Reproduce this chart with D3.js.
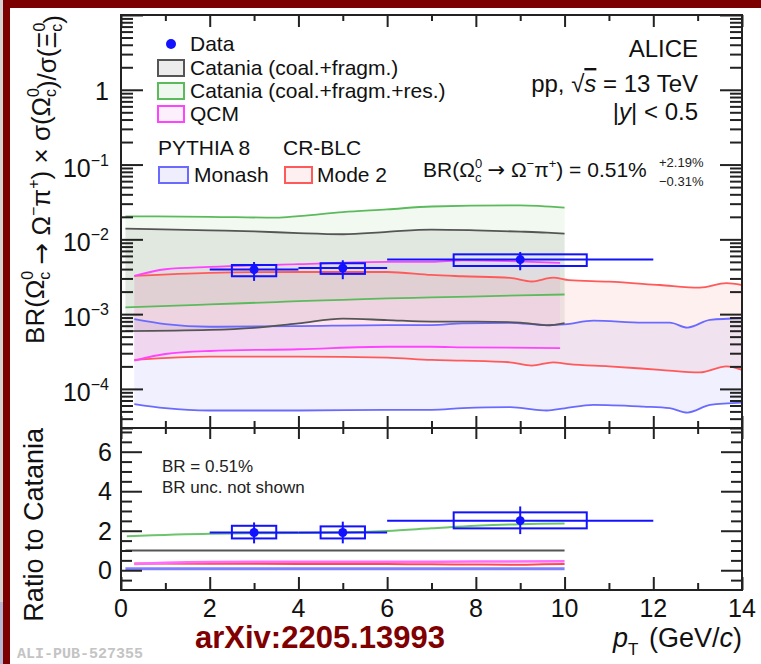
<!DOCTYPE html>
<html><head><meta charset="utf-8">
<script src="https://cdn.jsdelivr.net/npm/d3@7"></script>
<style>
body{margin:0;background:#fff;}
svg{display:block;font-family:"Liberation Sans",Arial,Helvetica,sans-serif;}
.arr{font-family:"DejaVu Sans",sans-serif;}
</style></head>
<body><svg id="c" width="761" height="664"></svg>
<script>
// ---------------- DATA ----------------
const dataPt      = [3, 5, 9];
const dataXLo     = [2, 4, 6];
const dataXHi     = [4, 6, 12];
const dataBoxLo   = [2.5, 4.5, 7.5];
const dataBoxHi   = [3.5, 5.5, 10.5];
const dataY       = [3.94e-3, 4.14e-3, 5.36e-3];
const dataStatLo  = [2.78e-3, 2.93e-3, 3.86e-3];
const dataStatHi  = [4.98e-3, 5.25e-3, 6.78e-3];
const dataSysLo   = [3.21e-3, 3.45e-3, 4.40e-3];
const dataSysHi   = [4.54e-3, 4.79e-3, 6.30e-3];

const ratioY      = [1.91, 1.91, 2.51];
const ratioStatLo = [1.36, 1.36, 1.83];
const ratioStatHi = [2.42, 2.46, 3.23];
const ratioSysLo  = [1.61, 1.61, 2.12];
const ratioSysHi  = [2.25, 2.22, 2.93];

// Catania (coal.+fragm.)
const catPt = [0.1, 2, 3, 4, 5, 6, 7, 8, 9, 9.6, 10];
const catHi = [1.39e-2, 1.32e-2, 1.28e-2, 1.21e-2, 1.17e-2, 1.26e-2, 1.35e-2, 1.32e-2, 1.27e-2, 1.23e-2, 1.19e-2];
const catLo = [5.93e-4, 6.15e-4, 6.55e-4, 7.5e-4, 8.71e-4, 8.32e-4, 7.94e-4, 7.94e-4, 7.7e-4, 7.08e-4, 7.59e-4];
// Catania (coal.+fragm.+res.)
const catResPt = [0.1, 2, 3.5, 4, 5, 6, 7, 9, 10];
const catResHi = [2.03e-2, 2.0e-2, 1.95e-2, 2.04e-2, 2.31e-2, 2.51e-2, 2.75e-2, 2.84e-2, 2.65e-2];
const catResLo = [1.23e-3, 1.35e-3, 1.45e-3, 1.49e-3, 1.55e-3, 1.62e-3, 1.67e-3, 1.78e-3, 1.83e-3];
// QCM
const qcmPt = [0.3, 1, 2, 4, 6, 7, 7.7, 9.9];
const qcmHi = [3.24e-3, 3.98e-3, 4.28e-3, 4.65e-3, 4.99e-3, 4.99e-3, 5.25e-3, 4.83e-3];
const qcmLo = [2.39e-4, 2.93e-4, 3.21e-4, 3.39e-4, 3.66e-4, 3.66e-4, 3.6e-4, 3.52e-4];
// PYTHIA 8 Monash
const monPt = [0.3, 1, 2, 4, 6, 7, 7.7, 8.77, 9.6, 10, 10.65, 11.77, 12.37, 12.77, 13.28, 14];
const monHi = [8.57e-4, 7.36e-4, 6.78e-4, 6.92e-4, 7.13e-4, 7.13e-4, 7.52e-4, 7.66e-4, 7.13e-4, 7.3e-4, 8.18e-4, 7.71e-4, 7.71e-4, 6.61e-4, 8.38e-4, 8.81e-4];
const monLo = [6.25e-5, 5.52e-5, 5.14e-5, 5.14e-5, 5.25e-5, 5.25e-5, 5.52e-5, 5.70e-5, 5.14e-5, 5.5e-5, 6.11e-5, 5.79e-5, 5.52e-5, 4.83e-5, 6.11e-5, 6.56e-5];
// PYTHIA 8 CR-BLC Mode 2
const m2Pt = [0.3, 2, 4, 6, 7, 7.7, 8.77, 9.26, 9.74, 10.1, 11, 12.15, 13.05, 13.65, 14];
const m2Hi = [3.24e-3, 3.56e-3, 3.66e-3, 3.66e-3, 3.34e-3, 3.21e-3, 3.05e-3, 2.73e-3, 3.08e-3, 2.84e-3, 2.72e-3, 2.45e-3, 2.26e-3, 2.59e-3, 2.45e-3];
const m2Lo = [2.44e-4, 2.70e-4, 2.70e-4, 2.62e-4, 2.44e-4, 2.39e-4, 2.27e-4, 2.05e-4, 2.27e-4, 2.14e-4, 2.0e-4, 1.80e-4, 1.66e-4, 2.0e-4, 1.80e-4];

// Ratios to Catania
const rCatPt = [0.1, 10];            const rCat = [1, 1];
const rResPt = [0.13, 2, 3, 4, 5, 6, 7, 8, 9, 10];
const rRes   = [1.72, 1.85, 1.87, 1.89, 1.91, 1.99, 2.12, 2.25, 2.33, 2.36];
const rQcmPt = [0.3, 1, 2, 4, 6, 8, 10];
const rQcm   = [0.32, 0.38, 0.42, 0.43, 0.43, 0.44, 0.46];
const rM2Pt  = [0.3, 2, 4, 6, 7, 8, 9, 9.5, 10];
const rM2    = [0.34, 0.33, 0.32, 0.31, 0.30, 0.29, 0.28, 0.30, 0.32];
const rMonPt = [0.1, 10];            const rMon = [0.08, 0.07];

const xMajor = [0, 2, 4, 6, 8, 10, 12, 14];
const yMainMajorExp = [-4, -3, -2, -1, 0];
const yRatioMajor = [0, 2, 4, 6];

// ---------------- LAYOUT ----------------
const L = 121, R = 742, T = 15, MID = 428, B = 590;
const svg = d3.select("#c");
const x = d3.scaleLinear([0, 14], [L, R]);
const y = d3.scaleLog([3e-5, 10], [MID, T]);
const yr = d3.scaleLinear([-1, 7.2], [B, MID]);

// outer decoration
svg.append("rect").attr("x",0).attr("y",0).attr("width",3).attr("height",602).attr("fill","#d4d4d4");
svg.append("rect").attr("x",0).attr("y",602).attr("width",3).attr("height",62).attr("fill","#b4b8d4");
svg.append("rect").attr("x",3).attr("y",0).attr("width",7).attr("height",664).attr("fill","#7d0000");
svg.append("rect").attr("x",3).attr("y",0).attr("width",758).attr("height",8).attr("fill","#7d0000");

const defs = svg.append("defs");
defs.append("clipPath").attr("id","cm").append("rect").attr("x",L).attr("y",T).attr("width",R-L).attr("height",MID-T);
defs.append("clipPath").attr("id","cr").append("rect").attr("x",L).attr("y",MID).attr("width",R-L).attr("height",B-MID);

const gm = svg.append("g").attr("clip-path","url(#cm)");
const gr = svg.append("g").attr("clip-path","url(#cr)");

function band(g, pt, lo, hi, fill){
  const pts = pt.map((p,i)=>({p, lo:lo[i], hi:hi[i]}));
  g.append("path").datum(pts)
    .attr("d", d3.area().x(d=>x(d.p)).y0(d=>y(d.lo)).y1(d=>y(d.hi)).curve(d3.curveMonotoneX))
    .attr("fill", fill).attr("stroke","none");
}
function bandLines(g, pt, lo, hi, stroke){
  [lo, hi].forEach(arr=>{
    g.append("path").datum(pt.map((p,i)=>[p, arr[i]]))
      .attr("d", d3.line().x(d=>x(d[0])).y(d=>y(d[1])).curve(d3.curveMonotoneX))
      .attr("fill","none").attr("stroke",stroke).attr("stroke-width",1.8);
  });
}
const colGrey="#555555", colGreen="#5cba5c", colPink="#ff44ff", colBlue="#6a6aff", colRed="#ff5a5a";
band(gm, monPt, monLo, monHi, "rgba(60,60,255,0.075)");
band(gm, m2Pt, m2Lo, m2Hi, "rgba(255,60,60,0.075)");
band(gm, qcmPt, qcmLo, qcmHi, "rgba(255,0,255,0.05)");
band(gm, catPt, catLo, catHi, "rgba(40,40,40,0.08)");
band(gm, catResPt, catResLo, catResHi, "rgba(0,150,0,0.055)");
bandLines(gm, monPt, monLo, monHi, colBlue);
bandLines(gm, m2Pt, m2Lo, m2Hi, colRed);
bandLines(gm, qcmPt, qcmLo, qcmHi, colPink);
bandLines(gm, catPt, catLo, catHi, colGrey);
bandLines(gm, catResPt, catResLo, catResHi, colGreen);

// data points
const dataCol = "#1212ff";
function drawData(g, ys, yv, sLo, sHi, bLo, bHi){
  dataPt.forEach((p,i)=>{
    g.append("rect").attr("x",x(dataBoxLo[i])).attr("width",x(dataBoxHi[i])-x(dataBoxLo[i]))
      .attr("y",ys(bHi[i])).attr("height",ys(bLo[i])-ys(bHi[i]))
      .attr("fill","none").attr("stroke",dataCol).attr("stroke-width",2);
    g.append("line").attr("x1",x(dataXLo[i])).attr("x2",x(dataXHi[i])).attr("y1",ys(yv[i])).attr("y2",ys(yv[i]))
      .attr("stroke",dataCol).attr("stroke-width",2);
    g.append("line").attr("x1",x(p)).attr("x2",x(p)).attr("y1",ys(sLo[i])).attr("y2",ys(sHi[i]))
      .attr("stroke",dataCol).attr("stroke-width",2);
    g.append("circle").attr("cx",x(p)).attr("cy",ys(yv[i])).attr("r",4.5).attr("fill",dataCol);
  });
}
drawData(gm, y, dataY, dataStatLo, dataStatHi, dataSysLo, dataSysHi);

// ratio panel
function rline(pt, v, col, w){
  gr.append("path").datum(pt.map((p,i)=>[p,v[i]]))
    .attr("d", d3.line().x(d=>x(d[0])).y(d=>yr(d[1])).curve(d3.curveMonotoneX))
    .attr("fill","none").attr("stroke",col).attr("stroke-width",w);
}
rline(rMonPt, rMon, "#8080ff", 3);
rline(rM2Pt, rM2, "#ff4a4a", 2);
rline(rQcmPt, rQcm, "#ff6aff", 2.5);
rline(rCatPt, rCat, "#555", 2);
rline(rResPt, rRes, "#6cc46c", 2);
drawData(gr, yr, ratioY, ratioStatLo, ratioStatHi, ratioSysLo, ratioSysHi);

// ---------------- AXES (ticks inward) ----------------
const xMinor = d3.range(1, 14, 2);
function noDom(g){ g.select(".domain").remove(); g.selectAll("line").attr("stroke","#222").attr("stroke-width",2); }
function xTicks(ypos, dir, major, minor){
  const mk = () => (dir==="up") ? d3.axisBottom(x) : d3.axisTop(x);
  svg.append("g").attr("transform",`translate(0,${ypos})`).call(mk().tickValues(xMajor).tickSize(-major).tickFormat("")).call(noDom);
  svg.append("g").attr("transform",`translate(0,${ypos})`).call(mk().tickValues(xMinor).tickSize(-minor).tickFormat("")).call(noDom);
}
xTicks(MID, "up", 12, 7);
xTicks(T, "down", 12, 6);
xTicks(B, "up", 13, 7);
xTicks(MID, "down", 11, 6);

const yMajorVals = [1e-4,1e-3,1e-2,1e-1,1,10];
const yMinorVals = [];
for (let e=-5; e<=0; e++) for (let m=2; m<=9; m++){ const v=m*Math.pow(10,e); if (v>=3e-5 && v<=10) yMinorVals.push(v); }
function yTicks(scale, maj, min, majLen, minLen){
  svg.append("g").attr("transform",`translate(${L},0)`).call(d3.axisLeft(scale).tickValues(maj).tickSize(-majLen).tickFormat("")).call(noDom);
  svg.append("g").attr("transform",`translate(${L},0)`).call(d3.axisLeft(scale).tickValues(min).tickSize(-minLen).tickFormat("")).call(noDom);
  svg.append("g").attr("transform",`translate(${R},0)`).call(d3.axisRight(scale).tickValues(maj).tickSize(-majLen).tickFormat("")).call(noDom);
  svg.append("g").attr("transform",`translate(${R},0)`).call(d3.axisRight(scale).tickValues(min).tickSize(-minLen).tickFormat("")).call(noDom);
}
yTicks(y, yMajorVals, yMinorVals, 22, 12);
yTicks(yr, yRatioMajor, d3.range(-0.5, 7.2, 0.5).filter(v=>v%2!==0), 21, 11);

// frames
svg.append("rect").attr("x",L).attr("y",T).attr("width",R-L).attr("height",MID-T).attr("fill","none").attr("stroke","#222").attr("stroke-width",2);
svg.append("rect").attr("x",L).attr("y",MID).attr("width",R-L).attr("height",B-MID).attr("fill","none").attr("stroke","#222").attr("stroke-width",2);

// tick labels
const tl = svg.append("g").attr("font-size",25).attr("fill","#111");
yMainMajorExp.forEach(e=>{
  const yy = y(Math.pow(10,e));
  if (e===0){
    tl.append("text").attr("x",109).attr("y",yy+10).attr("text-anchor","end").text("1");
  } else {
    const t = tl.append("text").attr("x",109).attr("y",yy+12).attr("text-anchor","end");
    t.append("tspan").text("10");
    t.append("tspan").attr("font-size",16).attr("dy",-11).text("\u2212"+(-e));
  }
});
yRatioMajor.forEach(v=>{
  tl.append("text").attr("x",112).attr("y",yr(v)+9).attr("text-anchor","end").text(v);
});
xMajor.forEach(v=>{
  tl.append("text").attr("x",x(v)).attr("y",617).attr("text-anchor","middle").text(v);
});

// axis titles
const yt = svg.append("text").attr("transform",`translate(44,${T}) rotate(-90)`).attr("text-anchor","end").attr("font-size",26).attr("fill","#111");
function omc(t){
  t.append("tspan").attr("font-size",16).attr("dy",-11).text("0");
  t.append("tspan").attr("font-size",16).attr("dx",-9).attr("dy",17).text("c");
  t.append("tspan").attr("dy",-6).text("");
}
yt.append("tspan").text("BR(\u03A9"); omc(yt);
yt.append("tspan").text(" ");
yt.append("tspan").attr("class","arr").text("\u2192");
yt.append("tspan").text(" \u03A9");
yt.append("tspan").attr("font-size",16).attr("dy",-11).text("\u2212");
yt.append("tspan").attr("dy",11).text("\u03C0");
yt.append("tspan").attr("font-size",16).attr("dy",-11).text("+");
yt.append("tspan").attr("dy",11).text(") \u00D7 \u03C3(\u03A9"); omc(yt);
yt.append("tspan").text(")/\u03C3(\u039E"); omc(yt);
yt.append("tspan").text(")");

svg.append("text").attr("transform",`translate(43,${MID}) rotate(-90)`).attr("text-anchor","end").attr("font-size",27).attr("fill","#111").text("Ratio to Catania");

const xt = svg.append("text").attr("x",R).attr("y",647).attr("text-anchor","end").attr("font-size",27).attr("fill","#111");
xt.append("tspan").attr("font-style","italic").text("p");
xt.append("tspan").attr("font-size",17).attr("dy",8).text("T");
xt.append("tspan").attr("dy",-8).attr("dx",3).text(" (GeV/");
xt.append("tspan").attr("font-style","italic").text("c");
xt.append("tspan").text(")");

// legend
const lg = svg.append("g").attr("font-size",21).attr("fill","#111");
lg.append("circle").attr("cx",171).attr("cy",44).attr("r",5).attr("fill",dataCol);
lg.append("text").attr("x",190).attr("y",51).text("Data");
const boxes = [
  {x:158,y:60,w:26,h:16,s:colGrey,f:"#ececec",t:"Catania (coal.+fragm.)",tx:190,ty:75},
  {x:158,y:83,w:26,h:16,s:colGreen,f:"#eff8ef",t:"Catania (coal.+fragm.+res.)",tx:190,ty:98},
  {x:158,y:106,w:26,h:16,s:colPink,f:"#fdf0fd",t:"QCM",tx:190,ty:121},
  {x:159,y:167,w:29,h:16,s:colBlue,f:"#eeeefd",t:"Monash",tx:194,ty:182},
  {x:285,y:167,w:27,h:16,s:colRed,f:"#fef0f0",t:"Mode 2",tx:317,ty:182}
];
boxes.forEach(b=>{
  lg.append("rect").attr("x",b.x).attr("y",b.y).attr("width",b.w).attr("height",b.h).attr("fill",b.f).attr("stroke",b.s).attr("stroke-width",2);
  lg.append("text").attr("x",b.tx).attr("y",b.ty).text(b.t);
});
lg.append("text").attr("x",158).attr("y",155).text("PYTHIA 8");
lg.append("text").attr("x",283).attr("y",155).text("CR-BLC");

// right texts
const rt = svg.append("g").attr("font-size",24).attr("fill","#111").attr("text-anchor","end");
rt.append("text").attr("x",698).attr("y",57).text("ALICE");
const pp = rt.append("text").attr("x",698).attr("y",92);
pp.append("tspan").text("pp, \u221A");
pp.append("tspan").attr("font-style","italic").attr("text-decoration","overline").text("s");
pp.append("tspan").text(" = 13 TeV");
const yy = rt.append("text").attr("x",698).attr("y",120);
yy.append("tspan").text("|");
yy.append("tspan").attr("font-style","italic").text("y");
yy.append("tspan").text("| < 0.5");

const br = svg.append("text").attr("x",423).attr("y",177).attr("font-size",21).attr("fill","#111");
br.append("tspan").text("BR(\u03A9");
br.append("tspan").attr("font-size",13).attr("dy",-9).text("0");
br.append("tspan").attr("font-size",13).attr("dx",-7).attr("dy",14).text("c");
br.append("tspan").attr("dy",-5).text(" ");
br.append("tspan").attr("class","arr").text("\u2192");
br.append("tspan").text(" \u03A9");
br.append("tspan").attr("font-size",13).attr("dy",-9).text("\u2212");
br.append("tspan").attr("dy",9).text("\u03C0");
br.append("tspan").attr("font-size",13).attr("dy",-9).text("+");
br.append("tspan").attr("dy",9).text(") = 0.51%");
svg.append("text").attr("x",659).attr("y",167).attr("font-size",13).attr("fill","#222").text("+2.19%");
svg.append("text").attr("x",659).attr("y",186).attr("font-size",13).attr("fill","#222").text("\u22120.31%");

const lt = svg.append("g").attr("font-size",17).attr("fill","#222");
lt.append("text").attr("x",162).attr("y",472).text("BR = 0.51%");
lt.append("text").attr("x",162).attr("y",493).text("BR unc. not shown");

svg.append("text").attr("x",195).attr("y",648).attr("font-size",31).attr("font-weight","bold").attr("fill","#800000").text("arXiv:2205.13993");
svg.append("text").attr("x",17).attr("y",658).attr("font-family","'Liberation Mono',monospace").attr("font-weight","bold").attr("font-size",15).attr("fill","#c4c4c4").text("ALI-PUB-527355");
</script></body></html>
